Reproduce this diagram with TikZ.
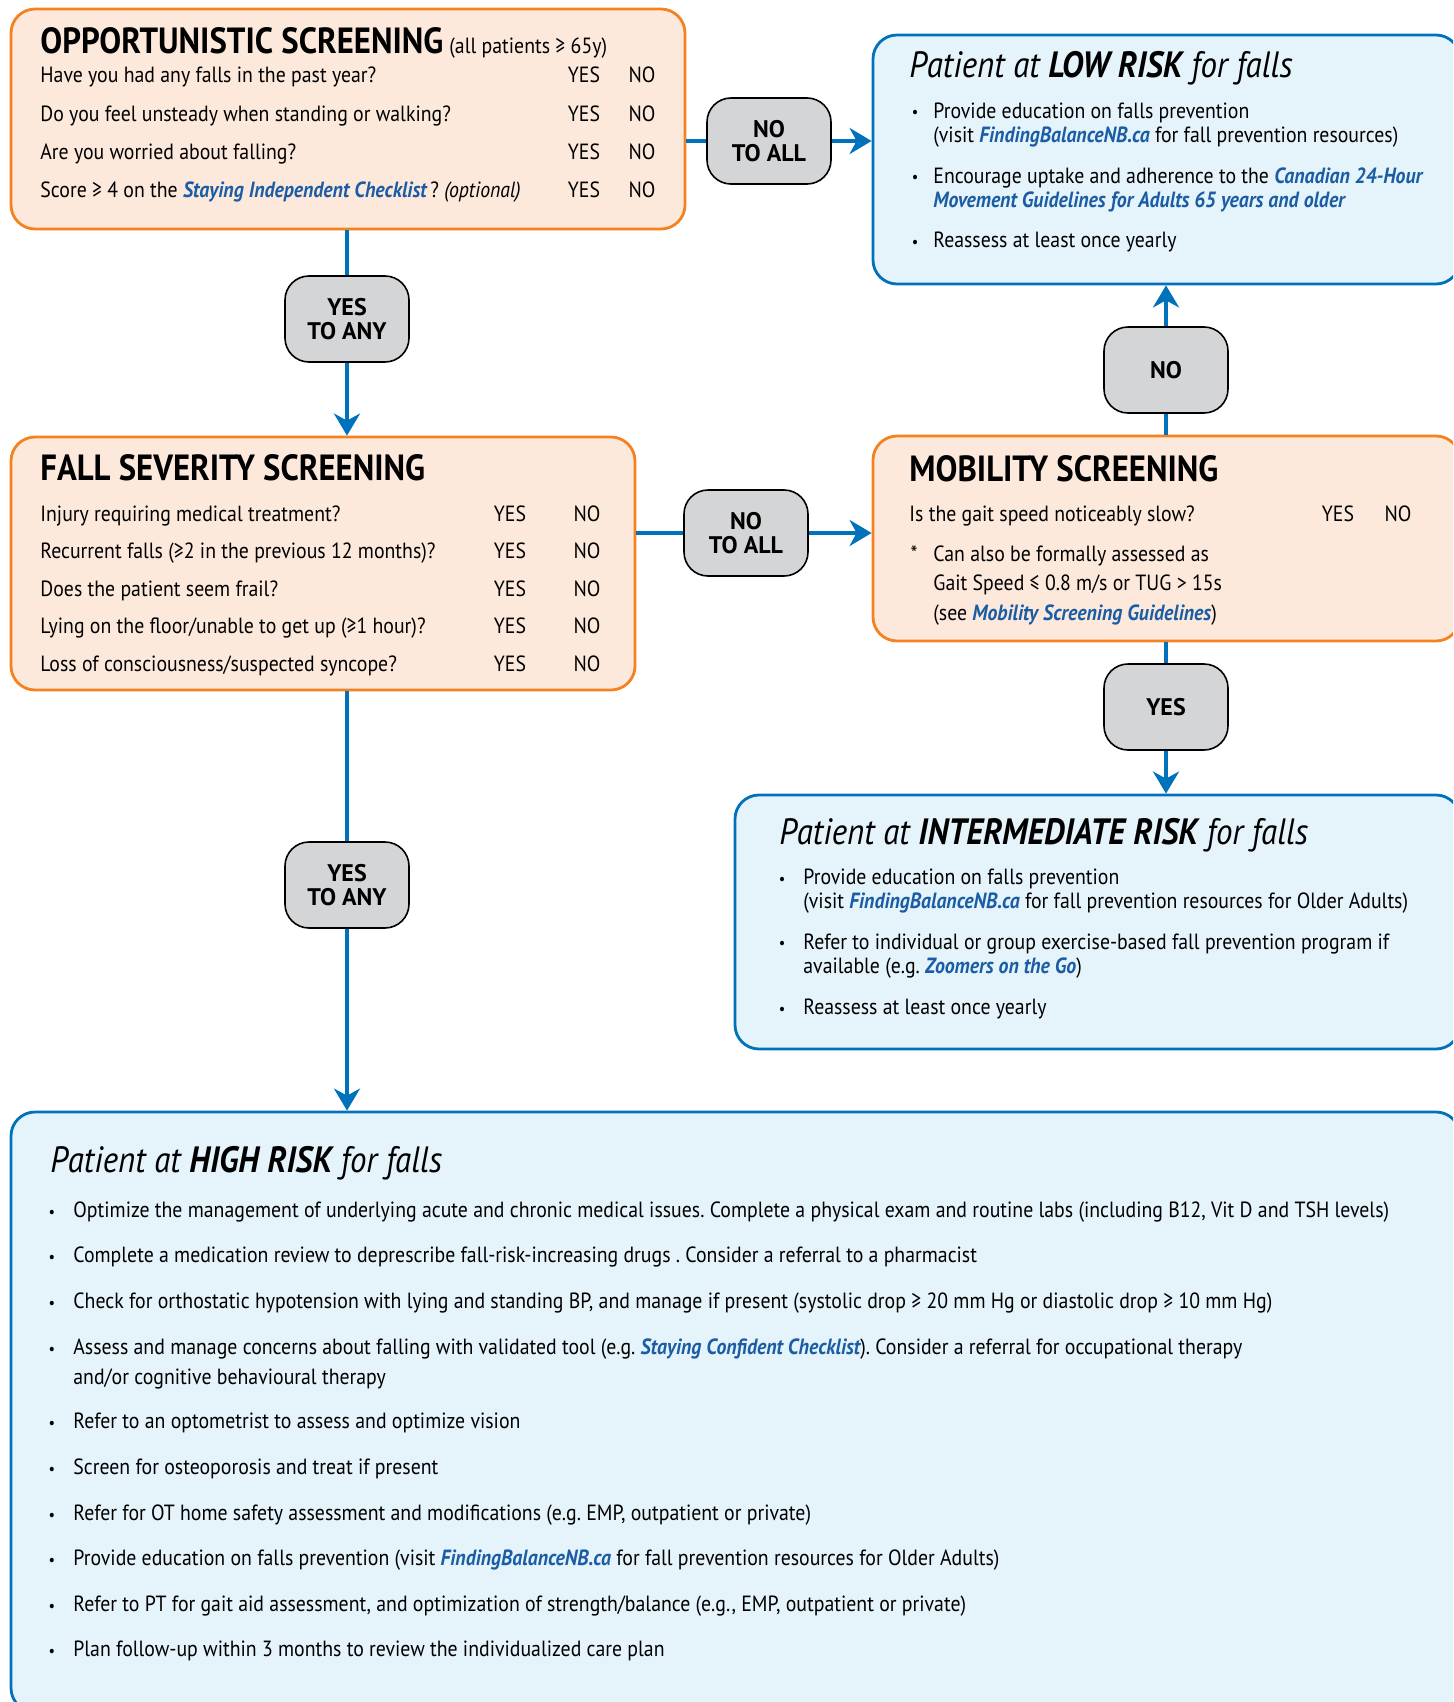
\documentclass[tikz,border=0pt]{standalone}
\usepackage{fontspec}
\setmainfont{PT Sans}[FakeStretch=0.9]
\newfontfamily\answerfont{PT Sans}
\usepackage{tikz}
\usetikzlibrary{arrows.meta, positioning, fit}

\definecolor{riskOrange}{HTML}{F5821F}
\definecolor{screenFill}{HTML}{FDE9DC}
\definecolor{riskBlue}{HTML}{0072BC}
\definecolor{actionFill}{HTML}{E5F3FB}
\definecolor{answerGray}{HTML}{D4D5D7}
\definecolor{linkBlue}{HTML}{1B5DA5}

\newcommand{\weblink}[1]{{\color{linkBlue}\bfseries\itshape #1}}

\begin{document}
\frenchspacing
\begin{tikzpicture}[
        x=0.5pt, y=-0.5pt,
        screenBox/.style={
            rectangle, rounded corners=12pt, draw=riskOrange, line width=1.4pt,
            fill=screenFill, inner sep=0pt
        },
        riskBox/.style={
            rectangle, rounded corners=12pt, draw=riskBlue, line width=1.4pt,
            fill=actionFill, inner sep=0pt
        },
        answer/.style={
            rectangle, rounded corners=12pt, draw=black, line width=0.8pt,
            fill=answerGray, minimum width=62pt, minimum height=43pt,
            align=center, font=\answerfont\fontsize{12}{12}\selectfont\bfseries
        },
        heading/.style={anchor=base west, inner sep=0pt, font=\fontsize{18.2}{20}\selectfont\bfseries},
        riskTitle/.style={anchor=base west, inner sep=0pt, font=\fontsize{18.3}{20}\selectfont\itshape},
        question/.style={anchor=base west, inner sep=0pt, font=\fontsize{11}{12}\selectfont},
        yesNo/.style={anchor=base, inner sep=0pt, font=\fontsize{11}{12}\selectfont},
        bulletMark/.style={anchor=base, inner sep=0pt, font=\fontsize{8}{12}\selectfont},
        bulletText/.style={anchor=base west, inner sep=0pt, align=left, font=\fontsize{11}{12}\selectfont},
        flow/.style={draw=riskBlue, line width=2.4pt},
        flowArrow/.style={flow, -{Stealth[length=11pt, width=13pt, inset=3.5pt]}}
    ]
        \useasboundingbox (0,0) rectangle (1453,1702);
        \clip (0,0) rectangle (1453,1702);

        % Boxes
        \node[screenBox, fit={(11,9) (685,229)}] (opp) {};
        \node[riskBox, fit={(873,35) (1460,284)}] (low) {};
        \node[screenBox, fit={(11,437) (635,690)}] (sev) {};
        \node[screenBox, fit={(873,436) (1460,641)}] (mob) {};
        \node[riskBox, fit={(735,795) (1460,1049)}] (inter) {};
        \node[riskBox, fit={(11,1112) (1460,1712)}] (high) {};

        % Answer nodes
        \node[answer] (noAllTop) at (769,141) {NO\\TO ALL};
        \node[answer] (yesAnyTop) at (347,319) {YES\\TO ANY};
        \node[answer] (noAllMid) at (746,533) {NO\\TO ALL};
        \node[answer] (noMob) at (1166,370) {NO};
        \node[answer] (yesMob) at (1166,707) {YES};
        \node[answer] (yesAnyLow) at (347,885) {YES\\TO ANY};

        % Connectors
        \draw[flow] (opp.east |- noAllTop) -- (noAllTop.west);
        \draw[flowArrow] (noAllTop.east) -- (low.west |- noAllTop);
        \draw[flow] (opp.south -| yesAnyTop) -- (yesAnyTop.north);
        \draw[flowArrow] (yesAnyTop.south) -- (sev.north -| yesAnyTop);
        \draw[flow] (sev.east |- noAllMid) -- (noAllMid.west);
        \draw[flowArrow] (noAllMid.east) -- (mob.west |- noAllMid);
        \draw[flow] (mob.north -| noMob) -- (noMob.south);
        \draw[flowArrow] (noMob.north) -- (low.south -| noMob);
        \draw[flow] (mob.south -| yesMob) -- (yesMob.north);
        \draw[flowArrow] (yesMob.south) -- (inter.north -| yesMob);
        \draw[flow] (sev.south -| yesAnyLow) -- (yesAnyLow.north);
        \draw[flowArrow] (yesAnyLow.south) -- (high.north -| yesAnyLow);

        % Opportunistic screening
        \node[heading] (oppTitle) at (40,54) {OPPORTUNISTIC SCREENING\,{\fontsize{11}{12}\selectfont\mdseries(all patients ≥ 65y)}};
        \foreach \q [count=\i] in {Have you had any falls in the past year?,
                Do you feel unsteady when standing or walking?,
                Are you worried about falling?,
                {Score ≥ 4 on the \weblink{Staying Independent Checklist}\,? \textit{(optional)}}} {
            \node[question] (opp\i) at (40,45+38*\i) {\q};
            \node[yesNo] (oppYes\i) at (584,45+38*\i) {YES};
            \node[yesNo] (oppNo\i) at (642,45+38*\i) {NO};
        }

        % Fall severity screening
        \node[heading] (sevTitle) at (40,480) {FALL SEVERITY SCREENING};
        \foreach \q [count=\i] in {Injury requiring medical treatment?,
                Recurrent falls (≥2 in the previous 12 months)?,
                Does the patient seem frail?,
                Lying on the floor/unable to get up (≥1 hour)?,
                Loss of consciousness/suspected syncope?} {
            \node[question] (sev\i) at (40,483.5+37.5*\i) {\q};
            \node[yesNo] (sevYes\i) at (510,483.5+37.5*\i) {YES};
            \node[yesNo] (sevNo\i) at (587,483.5+37.5*\i) {NO};
        }

        % Mobility screening
        \node[heading] (mobTitle) at (909,481) {MOBILITY SCREENING};
        \node[question] (mob1) at (909,521) {Is the gait speed noticeably slow?};
        \node[yesNo] (mobYes) at (1338,521) {YES};
        \node[yesNo] (mobNo) at (1398,521) {NO};
        \node[yesNo] (mobStar) at (914,561) {*};
        \node[bulletText, font=\fontsize{11}{14.7}\selectfont] (mobNote) at (933,620)
            {Can also be formally assessed as\\Gait Speed ≤ 0.8 m/s or TUG > 15s\\(see \weblink{Mobility Screening Guidelines})};

        % Low risk
        \node[riskTitle] (lowTitle) at (909,78) {Patient at \textbf{LOW RISK} for falls};
        \node[bulletMark] (lowDot1) at (915,118) {•};
        \node[bulletText] (lowItem1) at (933,142)
            {Provide education on falls prevention\\(visit \weblink{FindingBalanceNB.ca} for fall prevention resources)};
        \node[bulletMark] (lowDot2) at (915,183) {•};
        \node[bulletText] (lowItem2) at (933,207)
            {Encourage uptake and adherence to the \weblink{Canadian 24-Hour}\\\weblink{Movement Guidelines for Adults 65 years and older}};
        \node[bulletMark] (lowDot3) at (915,247) {•};
        \node[bulletText] (lowItem3) at (933,247) {Reassess at least once yearly};

        % Intermediate risk
        \node[riskTitle] (interTitle) at (779,844) {Patient at \textbf{INTERMEDIATE RISK} for falls};
        \node[bulletMark] (interDot1) at (782,884) {•};
        \node[bulletText] (interItem1) at (803,908)
            {Provide education on falls prevention\\(visit \weblink{FindingBalanceNB.ca} for fall prevention resources for Older Adults)};
        \node[bulletMark] (interDot2) at (782,948) {•};
        \node[bulletText] (interItem2) at (803,973)
            {Refer to individual or group exercise-based fall prevention program if\\available (e.g. \weblink{Zoomers on the Go})};
        \node[bulletMark] (interDot3) at (782,1014) {•};
        \node[bulletText] (interItem3) at (803,1014) {Reassess at least once yearly};

        % High risk
        \node[riskTitle] (highTitle) at (50,1172) {Patient at \textbf{HIGH RISK} for falls};
        \node[bulletMark] (highDot1) at (52,1217) {•};
        \node[bulletText] (highItem1) at (73,1217) {Optimize the management of underlying acute and chronic medical issues. Complete a physical exam and routine labs (including B12, Vit D and TSH levels)};
        \node[bulletMark] (highDot2) at (52,1262) {•};
        \node[bulletText] (highItem2) at (73,1262) {Complete a medication review to deprescribe fall-risk-increasing drugs . Consider a referral to a pharmacist};
        \node[bulletMark] (highDot3) at (52,1308) {•};
        \node[bulletText] (highItem3) at (73,1308) {Check for orthostatic hypotension with lying and standing BP, and manage if present (systolic drop ≥ 20 mm Hg or diastolic drop ≥ 10 mm Hg)};
        \node[bulletMark] (highDot4) at (52,1354) {•};
        \node[bulletText, font=\fontsize{11}{15}\selectfont] (highItem4) at (73,1384)
            {Assess and manage concerns about falling with validated tool (e.g. \weblink{Staying Confident Checklist}). Consider a referral for occupational therapy\\and/or cognitive behavioural therapy};
        \node[bulletMark] (highDot5) at (52,1428) {•};
        \node[bulletText] (highItem5) at (73,1428) {Refer to an optometrist to assess and optimize vision};
        \node[bulletMark] (highDot6) at (52,1474) {•};
        \node[bulletText] (highItem6) at (73,1474) {Screen for osteoporosis and treat if present};
        \node[bulletMark] (highDot7) at (52,1520) {•};
        \node[bulletText] (highItem7) at (73,1520) {Refer for OT home safety assessment and modifications (e.g. EMP, outpatient or private)};
        \node[bulletMark] (highDot8) at (52,1565) {•};
        \node[bulletText] (highItem8) at (73,1565) {Provide education on falls prevention (visit \weblink{FindingBalanceNB.ca} for fall prevention resources for Older Adults)};
        \node[bulletMark] (highDot9) at (52,1611) {•};
        \node[bulletText] (highItem9) at (73,1611) {Refer to PT for gait aid assessment, and optimization of strength/balance (e.g., EMP, outpatient or private)};
        \node[bulletMark] (highDot10) at (52,1656) {•};
        \node[bulletText] (highItem10) at (73,1656) {Plan follow-up within 3 months to review the individualized care plan};
    \end{tikzpicture}
\end{document}
